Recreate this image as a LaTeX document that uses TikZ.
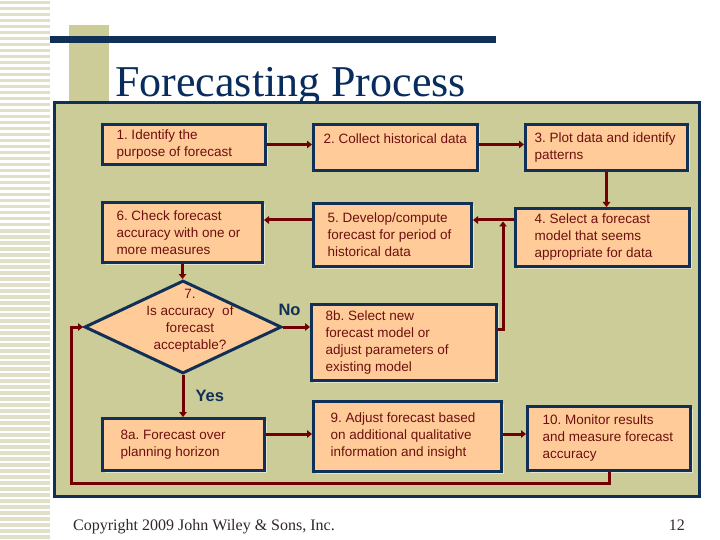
\documentclass[tikz,border=0pt]{standalone}
\usepackage{fontspec}
\setmainfont{Liberation Serif}
\newfontfamily\boxfont{Liberation Sans}
\usepackage{xcolor}
\usepackage{tikz}
\usetikzlibrary{positioning, calc, shadows, shapes.geometric, arrows.meta}

\definecolor{navy}{RGB}{16,48,88}
\definecolor{peach}{RGB}{255,204,153}
\definecolor{khaki}{RGB}{204,204,153}
\definecolor{stripe}{RGB}{224,224,200}
\definecolor{arrowred}{RGB}{115,0,0}
\definecolor{boxtext}{RGB}{110,15,15}
\definecolor{titleblue}{RGB}{8,44,92}
\definecolor{footgray}{RGB}{50,40,40}

\frenchspacing
\begin{document}
\begin{tikzpicture}[
    x=1pt, y=-1pt,
    box/.style={
        rectangle, draw=navy, line width=3pt, fill=peach,
        align=flush left, text=boxtext, inner ysep=2pt,
        font=\boxfont\fontsize{13.5}{17}\selectfont,
        drop shadow={shadow xshift=2pt, shadow yshift=-2pt, fill=white, opacity=0.5}
    },
    decision/.style={
        diamond, draw=navy, line width=3pt, fill=peach,
        minimum width=197pt, minimum height=93pt, inner sep=0pt
    },
    flow/.style={-{Triangle[length=5pt,width=7.5pt]}, draw=arrowred, line width=3pt},
    answer/.style={font=\boxfont\bfseries\fontsize{16.5}{18}\selectfont, text=navy, inner sep=0pt}
]
\useasboundingbox (0,0) rectangle (720,540);
\fill[white] (0,0) rectangle (720,540);

% Slide decoration: stripes, bar, rule, title
\foreach \s in {0,6,...,534}
    \fill[stripe] (0,\s+1) rectangle (50,\s+4.5);
\fill[khaki] (69,25) rectangle (109,101);
\fill[navy] (50,36) rectangle (496,43);
\node[anchor=base west, text=titleblue, font=\fontsize{44}{48}\selectfont, inner sep=0pt]
    (title) at (115,97) {Forecasting Process};
\draw[navy, line width=3pt, fill=khaki] (54.5,102.5) rectangle (699.5,496.5);

% 1. Top row
\node[box, text width=135pt, inner xsep=14pt, minimum height=40pt] (identify) at (184,144.5)
    {1. Identify the\\purpose of forecast};
\node[box, text width=144pt, inner xsep=10pt, minimum height=46pt] (collect) at (395.5,147.5)
    {2. Collect historical data\\\mbox{}};
\node[box, text width=144pt, inner xsep=9pt, minimum height=46pt] (plot) at (606.5,147.5)
    {3. Plot data and identify\\patterns};

% 2. Second row (runs right to left)
\node[box, text width=136pt, inner xsep=19pt, minimum height=58pt] (select) at (602.5,237.5)
    {4. Select a forecast\\model that seems\\appropriate for data};
\node[box, text width=130pt, inner xsep=14pt, minimum height=63pt] (develop) at (392.5,235)
    {5. Develop/compute\\forecast for period of\\historical data};
\node[box, text width=132pt, inner xsep=14pt, minimum height=60pt] (verify) at (182.5,232.5)
    {6. Check forecast\\accuracy with one or\\more measures};

% 3. Decision and its two outcomes
\node[decision, label={[font=\boxfont\fontsize{13.5}{17}\selectfont, text=boxtext, align=center,
    xshift=7pt, yshift=6pt]center:7.\\Is accuracy\ \ of\\forecast\\acceptable?}] (decide) at (183,327) {};
\node[box, text width=157pt, inner xsep=14pt, minimum height=76pt] (revise) at (404,342.5)
    {8b. Select new\\forecast model or\\adjust parameters of\\existing model};
\node[box, text width=126pt, inner xsep=18pt, minimum height=52pt] (forecast) at (183.5,444.5)
    {8a. Forecast over\\planning horizon};
\node[box, text width=154pt, inner xsep=17pt, minimum height=70pt] (adjust) at (407.5,436.5)
    {9. Adjust forecast based\\on additional qualitative\\information and insight};
\node[box, text width=133pt, inner xsep=15pt, minimum height=64pt] (monitor) at (609,438.5)
    {10. Monitor results\\and measure forecast\\accuracy};

% 4. Connectors
\draw[flow] (identify.east) -- (identify.east -| collect.west);
\draw[flow] (identify.east -| collect.east) -- (identify.east -| plot.west);
\draw[flow] (plot.south) -- (plot.south |- select.north);
\coordinate (join) at ([yshift=17.5pt]select.west);
\draw[flow] (join) -- (join -| develop.east);
\draw[flow] ([yshift=15pt]develop.west) -- ([yshift=15pt]develop.west -| verify.east);
\draw[flow] (verify.south) -- (verify.south |- decide.north);
\draw[flow] (decide.east) -- (decide.east -| revise.west)
    node[answer, pos=0, above right=10pt and -6pt] {No};
\draw[flow, shorten >=1.5pt] ([yshift=13.5pt]revise.east) -- ++(5,0) coordinate (bend) -- (bend |- join);
\draw[flow] (decide.south) -- (decide.south |- forecast.north)
    node[answer, midway, right=11pt] {Yes};
\draw[flow] ([yshift=10.5pt]forecast.east) -- ([yshift=10.5pt]forecast.east -| adjust.west);
\draw[flow] ([yshift=2.5pt]adjust.east) -- ([yshift=2.5pt]adjust.east -| monitor.west);

% feedback loop back to the decision
\draw[flow] (monitor.south) -- ++(0,11) -| ([xshift=-12pt]decide.west) -- (decide.west);

% Footer
\node[anchor=base west, font=\fontsize{16}{18}\selectfont, text=footgray, inner sep=0pt]
    (copyright) at (73,530) {Copyright 2009 John Wiley \& Sons, Inc.};
\node[anchor=base east, font=\fontsize{16}{18}\selectfont, text=footgray, inner sep=0pt]
    (pagenum) at (685,530) {12};

\end{tikzpicture}
\end{document}
